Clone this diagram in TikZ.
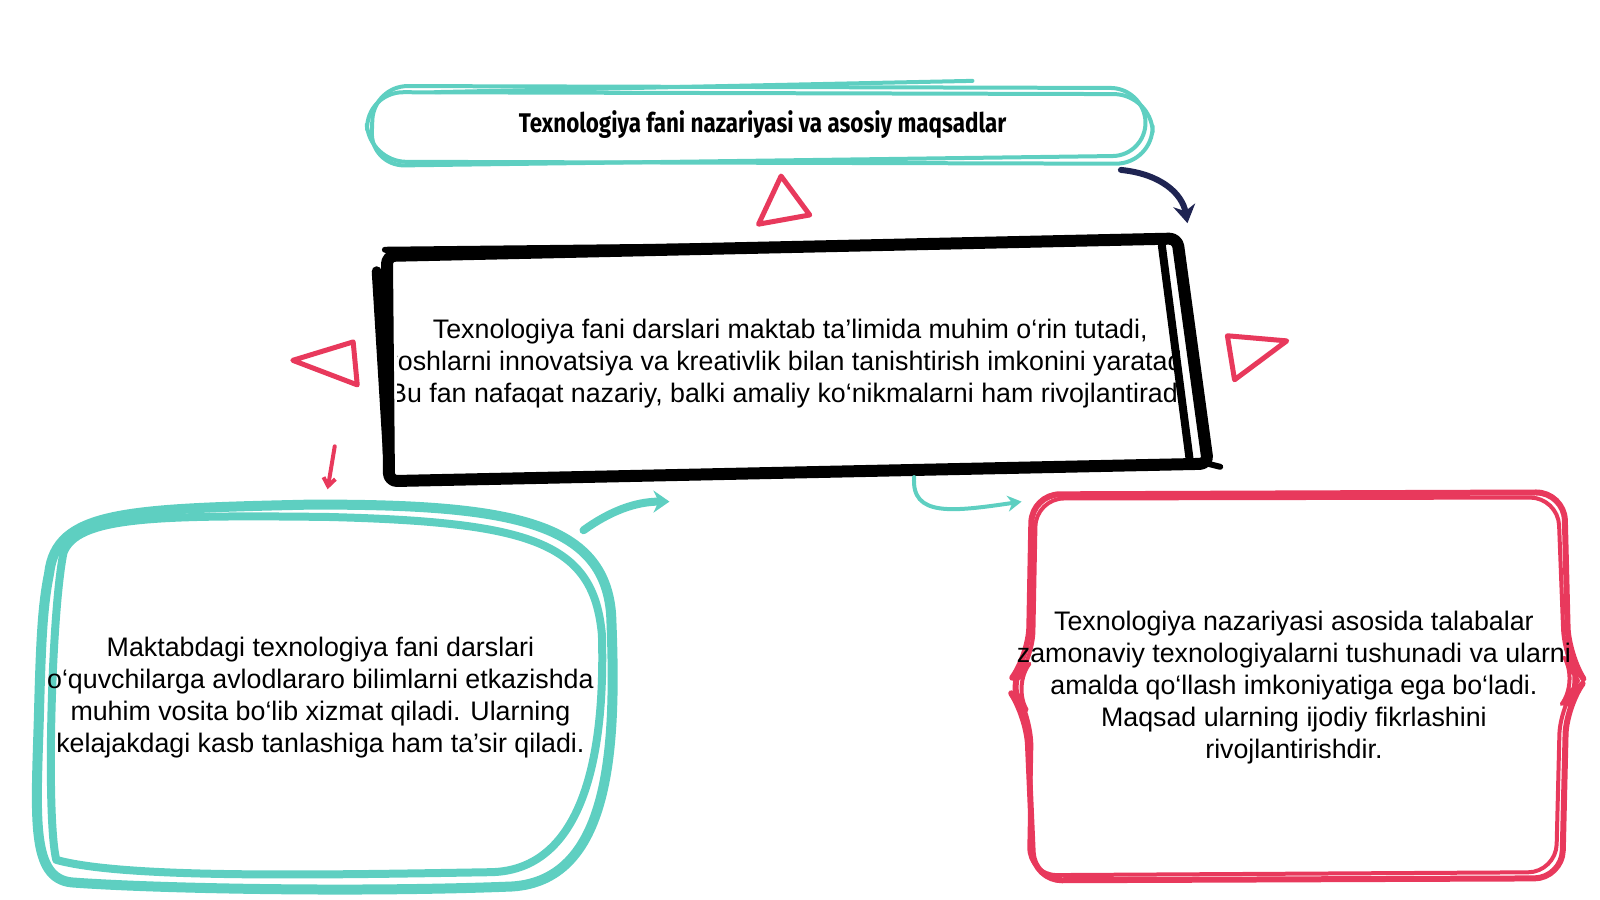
\documentclass[tikz,border=0pt]{standalone}
\usepackage{fontspec}
\setmainfont{Liberation Sans}
\newfontfamily\titlefont[FakeStretch=0.83]{Fira Sans}
\usetikzlibrary{arrows.meta}

\definecolor{tealline}{HTML}{5ECFC1}
\definecolor{pinkline}{HTML}{E8395C}
\definecolor{navyline}{HTML}{1F2452}

\tikzset{
  bodytext/.style={font=\fontsize{13.4}{16}\selectfont, align=center, text=black},
  titletext/.style={font=\titlefont\bfseries\fontsize{13.5}{16}\selectfont, text=black},
  tri/.style={draw=pinkline, line width=2.5pt, line join=round},
  sketch/.style={line cap=round, line join=round}
}

\begin{document}
\begin{tikzpicture}[x=0.512pt, y=-0.512pt]
  \useasboundingbox (0,0) rectangle (1563,879);

  % Title pill
  \draw[sketch, tealline, line width=2pt, rounded corners=19pt]
    (357,90) -- (1125,92) -- (1127,160) -- (360,158) -- cycle;
  \draw[sketch, tealline, line width=2pt, rounded corners=17pt]
    (365,84) -- (1118,86) -- (1120,152) -- (362,162) -- cycle;
  \draw[sketch, tealline, line width=2pt] (425,90) -- (950,79);
  \node[titletext] (title) at (745,122) {Texnologiya fani nazariyasi va asosiy maqsadlar};

  % Centre box
  \coordinate (c1) at (378,250);
  \coordinate (c2) at (1150,233);
  \coordinate (c3) at (1180,453);
  \coordinate (c4) at (380,470);
  \begin{scope}
    \clip (388,240) rectangle (1152,462);
    \node[bodytext] (centre) at (772,355) {Texnologiya fani darslari maktab ta'limida muhim o‘rin tutadi,\\
      yoshlarni innovatsiya va kreativlik bilan tanishtirish imkonini yaratadi.\\
      Bu fan nafaqat nazariy, balki amaliy ko‘nikmalarni ham rivojlantiradi.};
  \end{scope}
  \draw[sketch, black, line width=6pt, rounded corners=4pt] (c1) -- (c2) -- (c3) -- (c4) -- cycle;
  \draw[sketch, black, line width=5pt] (368,265) -- (380,460);
  \draw[sketch, black, line width=4pt] (1135,240) -- (1162,448);
  \draw[sketch, black, line width=3pt] (376,244) -- (1120,236);
  \draw[sketch, black, line width=3pt] (1180,453) -- (1192,456);

  % Triangles
  \draw[tri] (763,172) -- (791,210) -- (741,219) -- cycle;
  \draw[tri] (286,352) -- (345,334) -- (349,376) -- cycle;
  \draw[tri] (1199,328) -- (1257,333) -- (1206,371) -- cycle;

  % Left box
  \draw[sketch, tealline, line width=5pt]
    (48,560) .. controls (55,500) and (120,497) .. (300,493)
    .. controls (500,492) and (590,510) .. (597,600)
    .. controls (602,720) and (600,860) .. (500,866)
    .. controls (350,872) and (150,868) .. (70,862)
    .. controls (30,858) and (35,800) .. (38,700)
    .. controls (40,620) and (42,590) .. (48,560);
  \draw[sketch, tealline, line width=4pt]
    (62,540) .. controls (75,505) and (150,503) .. (320,505)
    .. controls (520,510) and (580,530) .. (588,620)
    .. controls (592,760) and (560,850) .. (480,852)
    .. controls (300,855) and (120,858) .. (55,840)
    .. controls (45,800) and (50,600) .. (62,540);
  \node[bodytext] (left) at (313,681) {Maktabdagi texnologiya fani darslari\\
    o‘quvchilarga avlodlararo bilimlarni etkazishda\\
    muhim vosita bo‘lib xizmat qiladi. Ularning\\
    kelajakdagi kasb tanlashiga ham ta'sir qiladi.};

  % Right box
  \draw[sketch, pinkline, line width=3pt, rounded corners=14pt]
    (1008,483) -- (1528,481) -- (1532,640) -- (1548,665) -- (1530,690) -- (1526,858)
    -- (1010,860) -- (1003,700) -- (983,670) -- (1005,640) -- cycle;
  \draw[sketch, pinkline, line width=2pt, rounded corners=14pt]
    (1012,487) -- (1522,486) -- (1528,642) -- (1542,666) -- (1524,690) -- (1520,852)
    -- (1005,855) -- (1008,702) -- (989,670) -- (1009,644) -- cycle;
  \node[bodytext] (right) at (1264,672) {Texnologiya nazariyasi asosida talabalar\\
    zamonaviy texnologiyalarni tushunadi va ularni\\
    amalda qo‘llash imkoniyatiga ega bo‘ladi.\\
    Maqsad ularning ijodiy fikrlashini\\
    rivojlantirishdir.};

  % Arrows
  \coordinate (n1) at (1095,166);
  \coordinate (n2) at (1160,218);
  \draw[sketch, navyline, line width=3pt, -{Stealth[length=9pt, width=11pt]}]
    (n1) .. controls (1135,170) and (1155,190) .. (n2);
  \coordinate (r1) at (327,436);
  \coordinate (r2) at (320,478);
  \draw[sketch, pinkline, line width=2pt, -{Straight Barb[length=4pt, width=6pt]}] (r1) -- (r2);
  \coordinate (t1) at (570,518);
  \coordinate (t2) at (654,490);
  \draw[sketch, tealline, line width=4pt, -{Stealth[length=8pt, width=11pt]}]
    (t1) .. controls (595,500) and (620,490) .. (t2);
  \coordinate (s1) at (893,466);
  \coordinate (s2) at (998,490);
  \draw[sketch, tealline, line width=2pt, -{Stealth[length=7pt, width=8pt]}]
    (s1) .. controls (890,505) and (930,500) .. (s2);
\end{tikzpicture}
\end{document}
